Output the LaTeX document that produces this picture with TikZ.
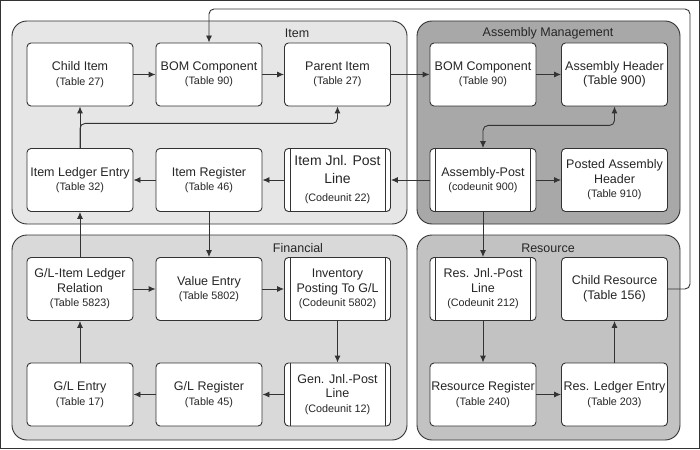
\documentclass[tikz,border=0pt]{standalone}
\usepackage{fontspec}
\setmainfont{Liberation Sans}
\usetikzlibrary{positioning,calc}
\usetikzlibrary{arrows.meta}

\definecolor{itemgray}{HTML}{E6E6E6}
\definecolor{asmgray}{HTML}{A8A8A8}
\definecolor{fingray}{HTML}{D9D9D9}
\definecolor{resgray}{HTML}{C2C2C2}
\definecolor{linegray}{HTML}{333333}

\newcommand{\sub}[1]{{\fontsize{10.8}{14}\selectfont #1}}
\newcommand{\bigsub}[1]{{\fontsize{12.5}{14.5}\selectfont #1}}

\begin{document}
\begin{tikzpicture}[x=1pt, y=-1pt, >={Latex[length=7pt,width=6pt]}, line width=0.9pt,
	group/.style = {draw=linegray, rounded corners=15pt},
	tbox/.style = {draw=linegray, fill=white, rounded corners=4pt, minimum width=106pt,
		minimum height=63pt, align=center, inner sep=1pt, text=black!85,
		font=\fontsize{12.5}{14.5}\selectfont},
	grouplabel/.style = {font=\fontsize{12.5}{14.5}\selectfont, text=black!85},
	link/.style = {->, draw=linegray, rounded corners=5pt}]
\useasboundingbox (0,0) rectangle (700,449);
\draw [linegray, line width=1.2pt] (0.6,0.6) rectangle (699.4,448.4);

\draw [group, fill=itemgray] (12,21) rectangle (407,224);
\draw [group, fill=asmgray] (417,21) rectangle (680,224);
\draw [group, fill=fingray] (12,235) rectangle (407,440);
\draw [group, fill=resgray] (417,235) rectangle (680,440);
\node [grouplabel] (itemlbl) at (297,33) {Item};
\node [grouplabel] (asmlbl) at (548,33) {Assembly Management};
\node [grouplabel] (finlbl) at (298,248) {Financial};
\node [grouplabel] (reslbl) at (548,248) {Resource};

% item
\node [tbox] (child) at (80,74.5) {Child Item\\\sub{(Table 27)}};
\node [tbox] (bomitem) at (209,74.5) {BOM Component\\\sub{(Table 90)}};
\node [tbox] (parent) at (337.5,74.5) {Parent Item\\\sub{(Table 27)}};
\node [tbox] (ile) at (80,180) {Item Ledger Entry\\\sub{(Table 32)}};
\node [tbox] (ireg) at (209,180) {Item Register\\\sub{(Table 46)}};
\node [tbox, font=\fontsize{14}{18}\selectfont] (ijpl) at (337.5,180) {Item Jnl. Post\\Line\\\sub{(Codeunit 22)}};

% assembly management
\node [tbox] (bomasm) at (483,74.5) {BOM Component\\\sub{(Table 90)}};
\node [tbox] (ahdr) at (614.5,74.5) {Assembly Header\\\bigsub{(Table 900)}};
\node [tbox] (apost) at (483,180) {Assembly-Post\\\sub{(codeunit 900)}};
\node [tbox] (pahdr) at (614.5,180) {Posted Assembly\\Header\\\sub{(Table 910)}};

% financial
\node [tbox] (glrel) at (80,289) {G/L-Item Ledger\\Relation\\\sub{(Table 5823)}};
\node [tbox] (ventry) at (209,289) {Value Entry\\\sub{(Table 5802)}};
\node [tbox] (invpost) at (337.5,289) {Inventory\\Posting To G/L\\\sub{(Codeunit 5802)}};
\node [tbox] (glentry) at (80,394.5) {G/L Entry\\\sub{(Table 17)}};
\node [tbox] (glreg) at (209,394.5) {G/L Register\\\sub{(Table 45)}};
\node [tbox] (gjpl) at (337.5,394.5) {Gen. Jnl.-Post\\Line\\\sub{(Codeunit 12)}};

% resource
\node [tbox] (rjpl) at (483,289) {Res. Jnl.-Post\\Line\\\sub{(Codeunit 212)}};
\node [tbox] (cres) at (614.5,289) {Child Resource\\\bigsub{(Table 156)}};
\node [tbox] (rreg) at (483,394.5) {Resource Register\\\sub{(Table 240)}};
\node [tbox] (rle) at (614.5,394.5) {Res. Ledger Entry\\\sub{(Table 203)}};

% codeunit bars
\foreach \n in {ijpl,apost,invpost,gjpl,rjpl} {
	\draw [linegray] ([xshift=6pt]\n.north west) -- ([xshift=6pt]\n.south west);
	\draw [linegray] ([xshift=-6pt]\n.north east) -- ([xshift=-6pt]\n.south east);
}

\coordinate (loop) at (690,9);

\draw [link] (child) -- (bomitem);
\draw [link] (bomitem) -- (parent);
\draw [link] (parent) -- (bomasm);
\draw [link] (bomasm) -- (ahdr);
\draw [link, <->] (apost.north) |- ([yshift=-19pt]ahdr.south) -- (ahdr.south);
\draw [link] (apost) -- (pahdr);
\draw [link] (apost) -- (ijpl);
\draw [link] (ijpl) -- (ireg);
\draw [link] (ireg) -- (ile);
\draw [link] (ile) -- (child);
\draw [link] (ile.north) |- ([yshift=-17pt]parent.south) -- (parent.south);
\draw [link] (ireg) -- (ventry);
\draw [link] (glrel) -- (ile);
\draw [link] (glrel) -- (ventry);
\draw [link] (ventry) -- (invpost);
\draw [link] (invpost) -- (gjpl);
\draw [link] (gjpl) -- (glreg);
\draw [link] (glreg) -- (glentry);
\draw [link] (glentry) -- (glrel);
\draw [link] (apost) -- (rjpl);
\draw [link] (rjpl) -- (rreg);
\draw [link] (rreg) -- (rle);
\draw [link] (rle) -- (cres);
\draw [link] (cres.east) -| (loop) -| (bomitem.north);

\end{tikzpicture}
\end{document}
